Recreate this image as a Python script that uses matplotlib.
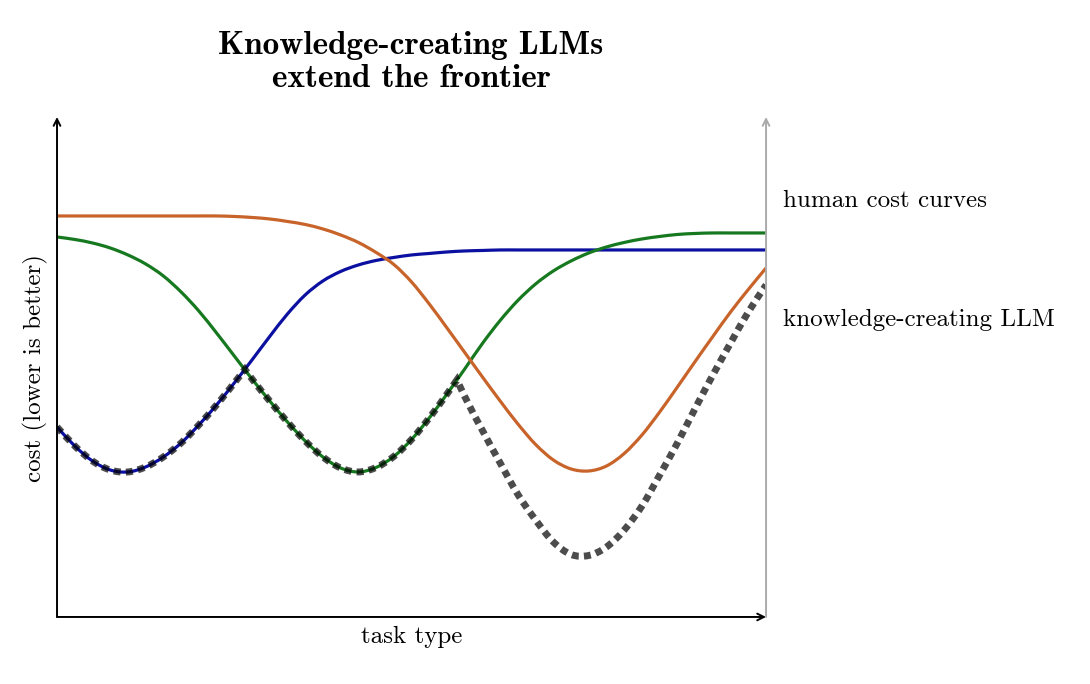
import numpy as np
import matplotlib.pyplot as plt
from matplotlib.path import Path
from matplotlib.patches import PathPatch

plt.rcParams['font.family'] = ['cmr10', 'DejaVu Serif']
plt.rcParams['axes.formatter.use_mathtext'] = True

# task type positions (shared by the three human curves)
task = np.arange(0, 10.01, 0.25)

# human cost curves (lower is better)
human_blue = [3.80, 3.42, 3.12, 2.94, 2.90, 3.00, 3.20, 3.48, 3.84, 4.24, 4.68,
              5.14, 5.61, 6.06, 6.44, 6.72, 6.91, 7.04, 7.13, 7.19, 7.24, 7.27,
              7.30, 7.32, 7.33, 7.34, 7.34, 7.34, 7.34, 7.34, 7.34, 7.34, 7.34,
              7.34, 7.34, 7.34, 7.34, 7.34, 7.34, 7.34, 7.34]
human_green = [7.60, 7.55, 7.48, 7.38, 7.24, 7.06, 6.82, 6.50, 6.12, 5.68, 5.22,
               4.76, 4.32, 3.90, 3.52, 3.20, 2.98, 2.90, 2.99, 3.21, 3.55, 3.98,
               4.46, 4.96, 5.47, 5.93, 6.33, 6.66, 6.92, 7.12, 7.28, 7.40, 7.49,
               7.56, 7.61, 7.65, 7.67, 7.68, 7.68, 7.68, 7.68]
human_orange = [8.02, 8.02, 8.02, 8.02, 8.02, 8.02, 8.02, 8.02, 8.02, 8.02, 8.01,
                7.99, 7.96, 7.91, 7.85, 7.76, 7.64, 7.49, 7.29, 7.05, 6.70, 6.26,
                5.78, 5.29, 4.80, 4.32, 3.86, 3.45, 3.14, 2.96, 2.92, 3.02, 3.27,
                3.64, 4.10, 4.60, 5.11, 5.61, 6.10, 6.55, 6.98]

# knowledge-creating LLM frontier
llm_task = [0, 0.25, 0.5, 0.75, 1, 1.25, 1.5, 1.75, 2, 2.25, 2.5, 2.65, 2.75, 3,
            3.25, 3.5, 3.75, 4, 4.25, 4.5, 4.75, 5, 5.25, 5.5, 5.64, 5.75, 6,
            6.25, 6.5, 6.75, 7, 7.25, 7.5, 7.75, 8, 8.25, 8.5, 8.75, 9, 9.25,
            9.5, 9.75, 10]
llm_cost = [3.80, 3.42, 3.12, 2.94, 2.90, 3.00, 3.20, 3.48, 3.84, 4.24, 4.68,
            4.95, 4.76, 4.32, 3.90, 3.52, 3.20, 2.98, 2.90, 2.99, 3.21, 3.55,
            3.98, 4.46, 4.74, 4.41, 3.73, 3.08, 2.45, 1.94, 1.50, 1.25, 1.23,
            1.40, 1.74, 2.22, 2.84, 3.48, 4.17, 4.84, 5.48, 6.10, 6.64]
llm_kinks = [2.65, 5.64]  # where the frontier switches curve


def smooth_path(xs, ys, kinks=()):
    # cubic Hermite through the points, drawn as bezier segments
    xs = np.asarray(xs, float)
    ys = np.asarray(ys, float)
    cuts = [0] + [int(np.argmin(abs(xs - k))) for k in kinks] + [len(xs) - 1]
    verts = [(xs[0], ys[0])]
    codes = [Path.MOVETO]
    for a, b in zip(cuts[:-1], cuts[1:]):
        px, py = xs[a:b + 1], ys[a:b + 1]
        m = np.gradient(py, px)
        m[0] = (py[1] - py[0]) / (px[1] - px[0])
        m[-1] = (py[-1] - py[-2]) / (px[-1] - px[-2])
        for i in range(len(px) - 1):
            h = px[i + 1] - px[i]
            verts += [(px[i] + h / 3, py[i] + m[i] * h / 3),
                      (px[i + 1] - h / 3, py[i + 1] - m[i + 1] * h / 3),
                      (px[i + 1], py[i + 1])]
            codes += [Path.CURVE4] * 3
    return Path(verts, codes)


fig = plt.figure(figsize=(10.9, 6.84), dpi=100)
ax = fig.add_axes([0.0523, 0.098, 0.6505, 0.731])
ax.set_xlim(0, 10)
ax.set_ylim(0, 10)
for s in ax.spines.values():
    s.set_visible(False)
ax.set_xticks([])
ax.set_yticks([])

for vals, col in [(human_blue, '#0c10a0'), (human_green, '#17791f'),
                  (human_orange, '#c8632a')]:
    ax.add_patch(PathPatch(smooth_path(task, vals), fill=False, edgecolor=col,
                           lw=2.3))

llm = PathPatch(smooth_path(llm_task, llm_cost, llm_kinks), fill=False,
                edgecolor='black', alpha=0.7, lw=5, linestyle=(0, (1, 0.75)))
llm.set_capstyle('butt')
ax.add_patch(llm)

# axes drawn as arrows
arrow = dict(arrowstyle='->', lw=1.4, color='black', shrinkA=0, shrinkB=0,
             mutation_scale=12)
ax.annotate('', xy=(0, 1), xytext=(0, 0), xycoords='axes fraction', arrowprops=arrow)
ax.annotate('', xy=(1, 0), xytext=(0, 0), xycoords='axes fraction', arrowprops=arrow)
ax.annotate('', xy=(1, 1), xytext=(1, 0), xycoords='axes fraction',
            arrowprops=dict(arrow, color='#aaaaaa'))

ax.text(10.24, 8.32, 'human cost curves', fontsize=18, va='center', ha='left',
        clip_on=False)
ax.text(10.24, 5.94, 'knowledge-creating LLM', fontsize=18, va='center', ha='left',
        clip_on=False)
ax.text(5, -0.40, 'task type', fontsize=18, va='center', ha='center', clip_on=False)
ax.text(-0.31, 4.98, 'cost (lower is better)', fontsize=18, va='center',
        ha='center', rotation=90, clip_on=False)

fig.text(411 / 1090, 1 - 62 / 684, 'Knowledge-creating LLMs\nextend the frontier',
         family=['cmb10', 'DejaVu Serif'], fontsize=24, ha='center', va='center',
         linespacing=1.2)

fig.savefig('out.png', dpi=100)
